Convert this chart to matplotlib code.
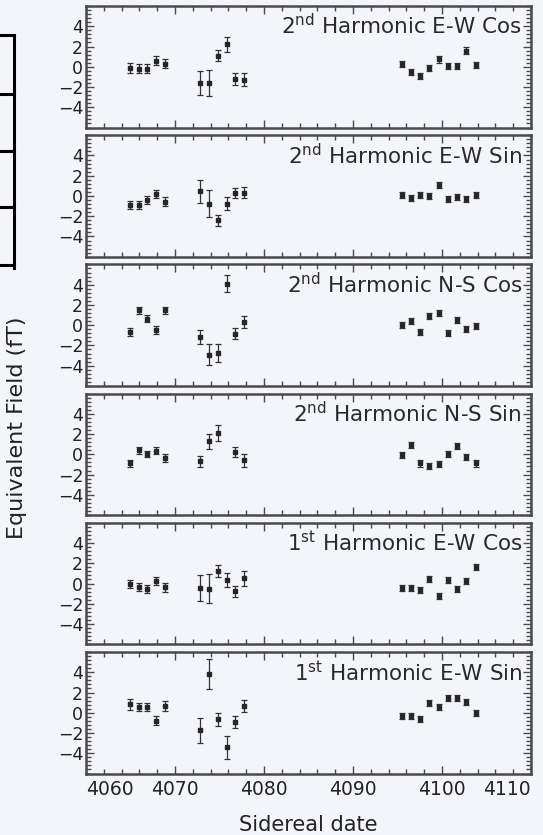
import numpy as np
import matplotlib.pyplot as plt
from matplotlib.lines import Line2D

plt.rcParams['font.family'] = ['DejaVu Sans']
plt.rcParams['mathtext.fontset'] = 'custom'
plt.rcParams['mathtext.rm'] = 'DejaVu Sans'

# sidereal dates of the measurements
dates = [4064.9, 4065.9, 4066.9, 4067.9, 4068.9,
         4072.8, 4073.8, 4074.8, 4075.8, 4076.7, 4077.7,
         4095.5, 4096.5, 4097.5, 4098.5, 4099.7, 4100.7, 4101.7, 4102.7, 4103.8]

ew_cos2 = [-0.1, -0.2, -0.2, 0.6, 0.3, -1.6, -1.6, 1.1, 2.2, -1.2, -1.3,
           0.3, -0.5, -0.9, -0.1, 0.75, 0.05, 0.05, 1.6, 0.2]
ew_cos2_err = [0.5, 0.45, 0.45, 0.45, 0.45, 1.15, 1.3, 0.55, 0.7, 0.6, 0.65,
               0.3, 0.3, 0.3, 0.3, 0.35, 0.3, 0.3, 0.35, 0.3]

ew_sin2 = [-0.85, -0.85, -0.4, 0.2, -0.55, 0.45, -0.75, -2.4, -0.75, 0.3, 0.3,
           0.05, -0.2, 0.1, -0.05, 1.05, -0.3, -0.1, -0.3, 0.05]
ew_sin2_err = [0.4, 0.4, 0.4, 0.4, 0.45, 1.1, 1.3, 0.55, 0.65, 0.5, 0.55,
               0.3, 0.3, 0.3, 0.3, 0.3, 0.3, 0.3, 0.3, 0.3]

ns_cos2 = [-0.65, 1.45, 0.65, -0.45, 1.45, -1.2, -2.9, -2.75, 4.1, -0.85, 0.3,
           0.05, 0.4, -0.65, 0.9, 1.2, -0.8, 0.55, -0.35, -0.1]
ns_cos2_err = [0.4, 0.35, 0.35, 0.4, 0.35, 0.7, 1.0, 0.85, 0.85, 0.55, 0.6,
               0.3, 0.3, 0.3, 0.3, 0.3, 0.3, 0.3, 0.3, 0.3]

ns_sin2 = [-0.9, 0.4, 0.05, 0.35, -0.35, -0.7, 1.3, 2.1, np.nan, 0.25, -0.6,
           -0.1, 0.95, -0.9, -1.15, -0.95, 0.05, 0.8, -0.25, -0.9]
ns_sin2_err = [0.35, 0.35, 0.3, 0.35, 0.4, 0.55, 0.75, 0.8, np.nan, 0.5, 0.6,
               0.3, 0.3, 0.3, 0.3, 0.3, 0.3, 0.3, 0.3, 0.3]

ew_cos1 = [-0.05, -0.35, -0.55, 0.25, -0.35, -0.45, -0.5, 1.25, 0.35, -0.75, 0.5,
           -0.45, -0.45, -0.65, 0.45, -1.25, 0.35, -0.5, 0.25, 1.6]
ew_cos1_err = [0.4, 0.4, 0.4, 0.4, 0.45, 1.3, 1.4, 0.6, 0.65, 0.55, 0.7,
               0.3, 0.3, 0.3, 0.3, 0.3, 0.3, 0.3, 0.3, 0.3]

ew_sin1 = [0.85, 0.55, 0.55, -0.8, 0.7, -1.75, 3.85, -0.65, -3.4, -0.9, 0.65,
           -0.35, -0.3, -0.65, 0.95, 0.6, 1.5, 1.5, 1.05, 0.0]
ew_sin1_err = [0.55, 0.4, 0.4, 0.45, 0.5, 1.2, 1.5, 0.65, 1.15, 0.6, 0.6,
               0.3, 0.3, 0.3, 0.3, 0.3, 0.3, 0.3, 0.3, 0.3]

labels = [r'2$^{\mathrm{nd}}$ Harmonic E-W Cos', r'2$^{\mathrm{nd}}$ Harmonic E-W Sin',
          r'2$^{\mathrm{nd}}$ Harmonic N-S Cos', r'2$^{\mathrm{nd}}$ Harmonic N-S Sin',
          r'1$^{\mathrm{st}}$ Harmonic E-W Cos', r'1$^{\mathrm{st}}$ Harmonic E-W Sin']
values = [ew_cos2, ew_sin2, ns_cos2, ns_sin2, ew_cos1, ew_sin1]
errors = [ew_cos2_err, ew_sin2_err, ns_cos2_err, ns_sin2_err, ew_cos1_err, ew_sin1_err]

bg = '#f4f4fb'
W, H = 543, 835
fig = plt.figure(figsize=(W / 100, H / 100), dpi=100, facecolor=bg)

left, right = 86, 531
top0, pitch, ph = 6, 129.2, 121.5
spine_col = '#4a4a4a'

for i in range(6):
    top = top0 + i * pitch
    ax = fig.add_axes([left / W, 1 - (top + ph) / H, (right - left) / W, ph / H])
    ax.set_facecolor(bg)
    ax.errorbar(dates, values[i], yerr=errors[i], fmt='s', ms=2.4, color='#262626',
                ecolor='#333333', elinewidth=0.9, capsize=2.3, capthick=0.9)
    ax.set_xlim(4060, 4110)
    ax.set_ylim(-6, 6)
    ax.set_yticks([-4, -2, 0, 2, 4])
    ax.set_yticks(np.arange(-6, 6.01, 0.4), minor=True)
    ax.set_xticks(np.arange(4060, 4111, 10))
    ax.set_xticks(np.arange(4060, 4111, 2), minor=True)
    ax.tick_params(which='both', direction='in', top=True, right=True,
                   color=spine_col, width=1.0)
    ax.tick_params(which='major', length=6)
    ax.tick_params(which='minor', length=3.5)
    ax.tick_params(axis='y', labelsize=12.5, pad=2, labelcolor='#222222')
    ax.tick_params(axis='x', labelsize=13.5, pad=5, labelcolor='#222222')
    for s in ax.spines.values():
        s.set_color(spine_col)
        s.set_linewidth(1.8)
    if i < 5:
        ax.tick_params(axis='x', labelbottom=False)
    else:
        ax.set_xlabel('Sidereal date', fontsize=15, color='#222222', labelpad=11)
        xl = ax.get_xticklabels()
        xl[0].set_horizontalalignment('left')
        xl[-1].set_horizontalalignment('right')
    ax.text(0.98, 0.765, labels[i], transform=ax.transAxes, ha='right', va='baseline',
            fontsize=15.5, color='#2a2a2a')

fig.text(17 / W, 1 - 428 / H, 'Equivalent Field (fT)', rotation=90, ha='center',
         va='center', fontsize=16, color='#222222')

# cropped table frame at the left edge
frame_x = 14 / W
rows_y = [35, 94, 151, 207, 265]
fig.add_artist(Line2D([frame_x, frame_x], [1 - 35 / H, 1 - 268 / H],
                      transform=fig.transFigure, color='black', lw=2.2))
for yy in rows_y:
    fig.add_artist(Line2D([0, frame_x], [1 - yy / H, 1 - yy / H],
                          transform=fig.transFigure, color='black', lw=2.2))

fig.savefig('out.png', dpi=100, facecolor=bg)
